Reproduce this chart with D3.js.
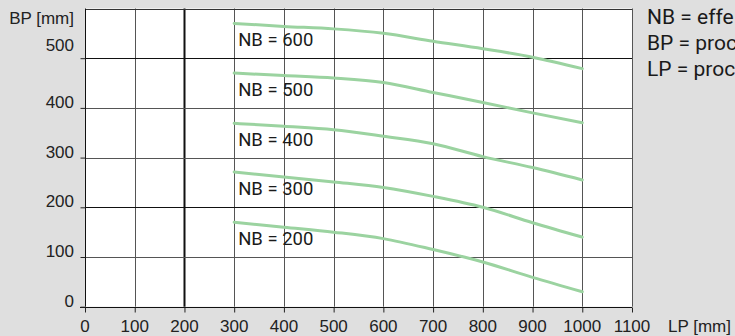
<!DOCTYPE html>
<html>
<head>
<meta charset="utf-8">
<script src="https://cdn.jsdelivr.net/npm/d3@7"></script>
<style>
  body { margin: 0; background: #dfdfdf; }
  svg { display: block; }
  .tick-label { font-family: "Liberation Sans", Arial, sans-serif; font-size: 17px; fill: #222; }
  .nb-label { font-family: Roboto, "Noto Sans", sans-serif; font-size: 18.5px; fill: #1a1a1a; }
  .legend { font-family: Roboto, "Noto Sans", sans-serif; font-size: 21px; fill: #1a1a1a; }
</style>
</head>
<body>
<div id="chart"></div>
<script>
// Data
const lpValues = [300, 400, 500, 600, 700, 800, 900, 1000];
const nbLevels = [600, 500, 400, 300, 200];
const bpByNb = {
  600: [570, 564, 559, 550, 534, 519, 502, 479],
  500: [470, 465, 460, 451, 431, 411, 390, 370],
  400: [369, 363, 356, 343, 328, 302, 280, 255],
  300: [271, 261, 251, 240, 222, 200, 169, 140],
  200: [170, 160, 150, 137, 115, 90, 59, 30]
};
const xTicks = [0, 100, 200, 300, 400, 500, 600, 700, 800, 900, 1000, 1100];
const yTicks = [0, 100, 200, 300, 400, 500];
const legendLines = ["NB = effe", "BP = proc", "LP = proc"];

const W = 735, H = 336;
const svg = d3.select('#chart').append('svg').attr('width', W).attr('height', H);

const x = d3.scaleLinear().domain([0, 1100]).range([85, 632]);
const y = d3.scaleLinear().domain([0, 600]).range([306.7, 8.5]);

// plot background
svg.append('rect')
  .attr('x', x(0)).attr('y', y(600))
  .attr('width', x(1100) - x(0)).attr('height', y(0) - y(600))
  .attr('fill', '#fff');

// grid
const grid = svg.append('g');
grid.selectAll('.vx').data(xTicks.slice(1)).join('line')
  .attr('x1', d => Math.round(x(d)) + 0.5).attr('x2', d => Math.round(x(d)) + 0.5)
  .attr('y1', y(600)).attr('y2', y(0))
  .attr('stroke', d => d === 200 ? '#111' : '#555')
  .attr('stroke-width', d => d === 200 ? 2 : 1);
grid.selectAll('.hy').data(yTicks.slice(1)).join('line')
  .attr('x1', x(0)).attr('x2', x(1100))
  .attr('y1', d => Math.round(y(d)) + 0.5).attr('y2', d => Math.round(y(d)) + 0.5)
  .attr('stroke', d => (d === 500 || d === 200) ? '#111' : '#555')
  .attr('stroke-width', 1);
// top border
grid.append('line')
  .attr('x1', x(0)).attr('x2', x(1100))
  .attr('y1', Math.round(y(600)) + 0.5).attr('y2', Math.round(y(600)) + 0.5)
  .attr('stroke', '#333');

// axes
const xAxis = svg.append('g')
  .attr('transform', `translate(0,${Math.round(y(0)) + 0.5})`)
  .call(d3.axisBottom(x).tickValues(xTicks).tickSize(5).tickFormat(''));
const yAxis = svg.append('g')
  .attr('transform', `translate(${Math.round(x(0)) + 0.5},0)`)
  .call(d3.axisLeft(y).tickValues(yTicks).tickSize(5).tickFormat(''));
[xAxis, yAxis].forEach(a => {
  a.select('.domain').attr('stroke', '#111');
  a.selectAll('.tick line').attr('stroke', '#222');
});
yAxis.select('.domain').attr('d', `M0,${y(0)}V${y(600)}`);
xAxis.select('.domain').attr('d', `M${x(0) - 5},0H${x(1100)}`);

// tick labels
svg.selectAll('.xl').data(xTicks).join('text')
  .attr('class', 'tick-label')
  .attr('x', d => x(d)).attr('y', 332)
  .attr('text-anchor', 'middle')
  .text(d => d);
svg.selectAll('.yl').data(yTicks).join('text')
  .attr('class', 'tick-label')
  .attr('x', 74).attr('y', d => y(d) - (d === 500 ? 7 : 0))
  .attr('text-anchor', 'end')
  .text(d => d);
svg.append('text').attr('class', 'tick-label')
  .attr('x', 74).attr('y', 24).attr('text-anchor', 'end').text('BP [mm]');
svg.append('text').attr('class', 'tick-label')
  .attr('x', 668).attr('y', 332).text('LP [mm]');

// curves
const line = d3.line()
  .x((d, i) => x(lpValues[i]))
  .y(d => y(d))
  .curve(d3.curveMonotoneX);

svg.append('g').selectAll('path').data(nbLevels).join('path')
  .attr('d', nb => line(bpByNb[nb]))
  .attr('fill', 'none')
  .attr('stroke', '#9bd3a0')
  .attr('stroke-width', 3)
  .attr('stroke-linecap', 'round');

svg.append('g').selectAll('text').data(nbLevels).join('text')
  .attr('class', 'nb-label')
  .attr('x', x(lpValues[0]) + 4)
  .attr('y', nb => y(bpByNb[nb][0]) + 23)
  .text(nb => `NB = ${nb}`);

// legend (runs off the right edge, as in the reference)
svg.append('g').selectAll('text').data(legendLines).join('text')
  .attr('class', 'legend')
  .attr('x', 647)
  .attr('y', (d, i) => 24 + i * 26)
  .text(d => d);
</script>
</body>
</html>
